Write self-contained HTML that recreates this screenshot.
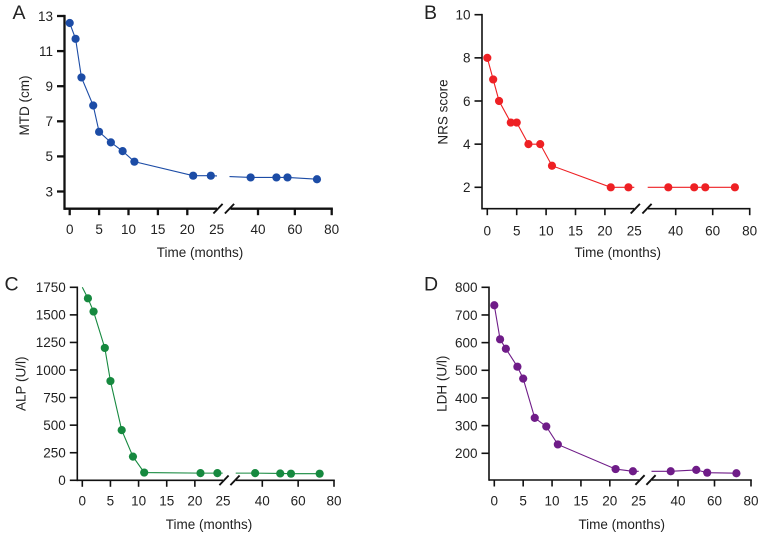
<!DOCTYPE html>
<html>
<head>
<meta charset="utf-8">
<title>Four panel time course</title>
<style>
html,body{margin:0;padding:0;background:#fff;}
svg{display:block;filter:blur(0.3px);}
text{font-family:"Liberation Sans",sans-serif;fill:#222;}
</style>
</head>
<body>
<svg id="chart" xmlns="http://www.w3.org/2000/svg" width="765" height="536" viewBox="0 0 765 536"></svg>
<script>
const months = [0, 1, 2, 4, 5, 7, 9, 11, 21, 24, 36, 50, 56, 72];
const xTicks = [0, 5, 10, 15, 20, 25, 40, 60, 80];

const mtdValues = [12.6, 11.7, 9.5, 7.9, 6.4, 5.8, 5.3, 4.7, 3.9, 3.9, 3.8, 3.8, 3.8, 3.7];
const mtdTicks = [3, 5, 7, 9, 11, 13];

const nrsValues = [8, 7, 6, 5, 5, 4, 4, 3, 2, 2, 2, 2, 2, 2];
const nrsTicks = [2, 4, 6, 8, 10];

const alpValues = [1750, 1650, 1530, 1200, 900, 455, 215, 70, 65, 65, 65, 62, 60, 60];
const alpTicks = [0, 250, 500, 750, 1000, 1250, 1500, 1750];

const ldhValues = [735, 612, 578, 513, 470, 328, 297, 232, 143, 135, 135, 140, 130, 128];
const ldhTicks = [200, 300, 400, 500, 600, 700, 800];

const panelA = {key:'a', letter:'A', lx:12.5, ly:19, yTitle:'MTD (cm)', ytx:24, yty:105.5, tx:200, tty:257,
  axisX:64.5, x0:69.7, x25:216.7, x40:258, x80:331.7, yTop:16, vTop:13, yRef:191.5, vRef:3, yBot:208.7,
  color:'#1c4ca6', axisW:2.3, values:mtdValues, ticks:mtdTicks, skipFirst:false, tlY:234, gapA:217, gapB:229.5, s1:218, s2:229.5};
const panelB = {key:'b', letter:'B', lx:424, ly:19, yTitle:'NRS score', ytx:442.7, yty:112, tx:617.7, tty:257,
  axisX:482, x0:487.3, x25:634.3, x40:675.7, x80:749.7, yTop:14.7, vTop:10, yRef:187.3, vRef:2, yBot:208.7,
  color:'#ee2024', axisW:1.6, values:nrsValues, ticks:nrsTicks, skipFirst:false, tlY:235.5, gapA:634.3, gapB:647.7, s1:635.3, s2:647};
const panelC = {key:'c', letter:'C', lx:4.5, ly:290.7, yTitle:'ALP (U/l)', ytx:20.7, yty:383.8, tx:209, tty:529,
  axisX:77.3, x0:82.3, x25:223, x40:262.3, x80:334, yTop:287.3, vTop:1750, yRef:480.3, vRef:0, yBot:480.3,
  color:'#16893f', axisW:1.6, values:alpValues, ticks:alpTicks, skipFirst:true, tlY:505.5, gapA:222.7, gapB:235.7, s1:224, s2:235};
const panelD = {key:'d', letter:'D', lx:424, ly:290.7, yTitle:'LDH (U/l)', ytx:441.7, yty:383.7, tx:621.7, tty:529,
  axisX:489, x0:494.3, x25:638.7, x40:678, x80:751, yTop:287.3, vTop:800, yRef:453.3, vRef:200, yBot:480,
  color:'#6f1c88', axisW:1.6, values:ldhValues, ticks:ldhTicks, skipFirst:false, tlY:505.5, gapA:638.7, gapB:651.5, s1:640, s2:651};

const SVG_NS = 'http://www.w3.org/2000/svg';
const chart = document.getElementById('chart');

function make(parent, tag, attrs, text) {
  const el = document.createElementNS(SVG_NS, tag);
  for (const k in attrs) el.setAttribute(k, attrs[k]);
  if (text !== undefined) el.textContent = text;
  parent.appendChild(el);
  return el;
}

function drawPanel(p) {
  const xScale = function (t) {
    if (t <= 25) return p.x0 + (p.x25 - p.x0) * t / 25;
    return p.x80 - (80 - t) * (p.x80 - p.x40) / 40;
  };
  const yScale = function (v) {
    return p.yTop + (p.vTop - v) * (p.yRef - p.yTop) / (p.vTop - p.vRef);
  };

  const g = make(chart, 'g', {});
  
  

  const letter = make(g, 'text', {x:p.lx, y:p.ly, 'font-size':19.5}, p.letter);
  
  

  const yAxis = make(g, 'line', {x1:p.axisX, x2:p.axisX, y1:p.yTop - p.axisW / 2, y2:p.yBot + p.axisW / 2, stroke:'#111', 'stroke-width':p.axisW});
  
  

  const xAxisLeft = make(g, 'line', {x1:p.axisX, x2:p.s1 - 1, y1:p.yBot, y2:p.yBot, stroke:'#111', 'stroke-width':p.axisW});
  
  

  const xAxisRight = make(g, 'line', {x1:p.s2 + 1, x2:xScale(80) + p.axisW / 2, y1:p.yBot, y2:p.yBot, stroke:'#111', 'stroke-width':p.axisW});
  
  

  [p.s1, p.s2].forEach(function (sx) {
    const slash = make(g, 'line', {x1:sx - 4.6, y1:p.yBot + 4.8, x2:sx + 4.6, y2:p.yBot - 4.8, stroke:'#111', 'stroke-width':1.9});
    
    
  });

  p.ticks.forEach(function (v) {
    const yy = yScale(v);
    const tick = make(g, 'line', {x1:p.axisX - 7.5, x2:p.axisX, y1:yy, y2:yy, stroke:'#111', 'stroke-width':p.axisW});
    
    
    const label = make(g, 'text', {x:p.axisX - 11.5, y:yy + 4.8, 'font-size':13.5, 'text-anchor':'end'}, String(v));
    
    
  });

  xTicks.forEach(function (t) {
    const xx = xScale(t);
    if (t !== 25) {
      const tick = make(g, 'line', {x1:xx, x2:xx, y1:p.yBot, y2:p.yBot + 6.5, stroke:'#111', 'stroke-width':p.axisW});
      
      
    }
    const label = make(g, 'text', {x:xx, y:p.tlY, 'font-size':13.5, 'text-anchor':'middle'}, String(t));
    
    
  });

  const xTitle = make(g, 'text', {x:p.tx, y:p.tty, 'font-size':13.5, 'text-anchor':'middle'}, 'Time (months)');
  
  

  const yTitle = make(g, 'text', {x:0, y:0, 'font-size':13.5, 'text-anchor':'middle', transform:'translate(' + (p.ytx + 4.8) + ' ' + p.yty + ') rotate(-90)'}, p.yTitle);
  
  

  const pts = months.map(function (t, i) { return [xScale(t), yScale(p.values[i])]; });
  const left = pts.filter(function (q, i) { return months[i] <= 25; });
  const right = pts.filter(function (q, i) { return months[i] > 25; });
  const a = left[left.length - 1];
  const b = right[0];
  const bridgeY = function (xx) { return a[1] + (b[1] - a[1]) * (xx - a[0]) / (b[0] - a[0]); };
  const leftLine = left.concat([[p.gapA, bridgeY(p.gapA)]]);
  const rightLine = [[p.gapB, bridgeY(p.gapB)]].concat(right);

  [leftLine, rightLine].forEach(function (seg) {
    const line = make(g, 'polyline', {points:seg.map(function (q) { return q[0].toFixed(2) + ',' + q[1].toFixed(2); }).join(' '), fill:'none', stroke:p.color, 'stroke-width':1.1});
    
    
  });

  pts.forEach(function (q, i) {
    if (p.skipFirst && i === 0) return;
    const dot = make(g, 'circle', {cx:q[0], cy:q[1], r:4.1, fill:p.color});
    
    
  });
}

drawPanel(panelA);
drawPanel(panelB);
drawPanel(panelC);
drawPanel(panelD);
</script>
</body>
</html>
